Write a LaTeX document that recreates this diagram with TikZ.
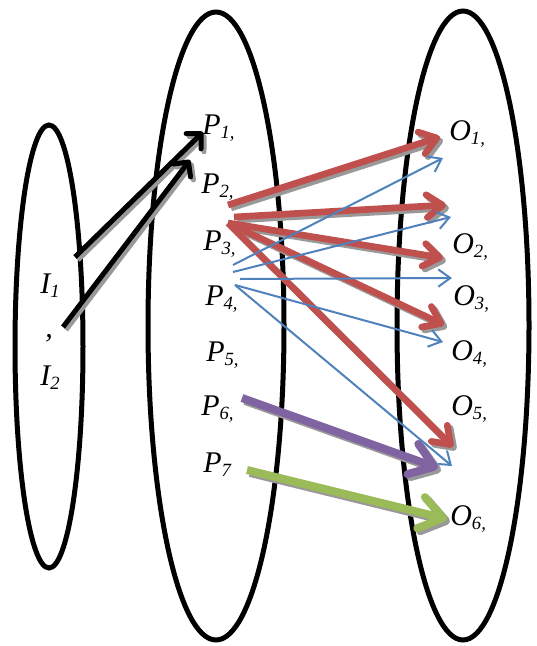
\documentclass[tikz,border=0pt]{standalone}
\usepackage{fontspec}
\setmainfont{Liberation Serif}
\usepackage{tikz}
\usetikzlibrary{arrows.meta}
\definecolor{setred}{RGB}{192,80,77}
\definecolor{setblue}{RGB}{79,129,189}
\definecolor{setpurple}{RGB}{128,100,162}
\definecolor{setgreen}{RGB}{155,187,89}
\tikzset{
  setline/.style={draw=black, line width=3.75pt},
  lbl/.style={anchor=base west, inner sep=0pt,
    font=\fontsize{22.5}{22.5}\selectfont\itshape},
  shadowline/.style={draw=black!40,
    transform canvas={shift={(2.2pt,-2.2pt)}}},
  blackarr/.style={draw=black, line width=3.75pt,
    -{Straight Barb[length=8pt,width=16pt,round]}},
  redarr/.style={draw=setred, line width=5pt,
    -{Straight Barb[length=12pt,width=17pt,round]}},
  bluearr/.style={draw=setblue, line width=1.5pt,
    -{Straight Barb[length=9pt,width=13pt]}},
  purplearr/.style={draw=setpurple, line width=6pt,
    -{Straight Barb[length=17pt,width=24pt,round]}},
  greenarr/.style={draw=setgreen, line width=6pt,
    -{Straight Barb[length=17pt,width=24pt,round]}},
}
\newcommand{\lsub}[2]{#1\raisebox{-3.6pt}{\fontsize{14}{14}\selectfont #2}}
% arrow with a grey drop shadow
\newcommand{\sarrow}[3]{%
  \draw[#1, shadowline] (#2) -- (#3);
  \draw[#1] (#2) -- (#3);}

\begin{document}
\begin{tikzpicture}[x=0.75pt, y=-0.75pt]
  \useasboundingbox (0,0) rectangle (536,646);

  % the three sets
  \draw[setline] (49,346.5) ellipse [x radius=34, y radius=221.5];
  \draw[setline] (216,326) ellipse [x radius=68, y radius=314];
  \draw[setline] (463,325.5) ellipse [x radius=66, y radius=314.5];

  % inputs
  \node[lbl] (I1) at (40,293) {\lsub{I}{1}};
  \node[lbl] (Icomma) at (45,337) {,};
  \node[lbl] (I2) at (40,385) {\lsub{I}{2}};

  % processes
  \node[lbl] (P1) at (202,134) {\lsub{P}{1,}};
  \node[lbl] (P2) at (201,193) {\lsub{P}{2,}};
  \node[lbl] (P3) at (203,250) {\lsub{P}{3,}};
  \node[lbl] (P4) at (205,305) {\lsub{P}{4,}};
  \node[lbl] (P5) at (206,361) {\lsub{P}{5,}};
  \node[lbl] (P6) at (201,415) {\lsub{P}{6,}};
  \node[lbl] (P7) at (203,472) {\lsub{P}{7}};

  % outputs
  \node[lbl] (O1) at (449,140) {\lsub{O}{1,}};
  \node[lbl] (O2) at (452,253) {\lsub{O}{2,}};
  \node[lbl] (O3) at (453,305) {\lsub{O}{3,}};
  \node[lbl] (O4) at (451,360) {\lsub{O}{4,}};
  \node[lbl] (O5) at (451,415) {\lsub{O}{5,}};
  \node[lbl] (O6) at (450,525) {\lsub{O}{6,}};

  % arrow ends
  \coordinate (i1s) at (75,257);
  \coordinate (i2s) at (63,327);
  \coordinate (p1a) at (203,132);
  \coordinate (p1b) at (190,160);
  \coordinate (p2s) at (228,205);
  \coordinate (p3a) at (234,217);
  \coordinate (p3s) at (228,223);
  \coordinate (p4a) at (233,265);
  \coordinate (p4b) at (233,272);
  \coordinate (p4c) at (240,279);
  \coordinate (p4s) at (235,285);
  \coordinate (p6s) at (242,398);
  \coordinate (p7s) at (247,470);
  \coordinate (o1r) at (440,137);
  \coordinate (o1b) at (443,158);
  \coordinate (o2r) at (446,205);
  \coordinate (o2b) at (451,217);
  \coordinate (o3r) at (443,258);
  \coordinate (o3b) at (452,278);
  \coordinate (o4r) at (444,325);
  \coordinate (o4b) at (443,342);
  \coordinate (o5r) at (453,447);
  \coordinate (o5b) at (452,466);
  \coordinate (o5p) at (438,468);
  \coordinate (o6g) at (447,519);

  % inputs to P1
  \sarrow{blackarr}{i1s}{p1a}
  \sarrow{blackarr}{i2s}{p1b}

  % red
  \sarrow{redarr}{p2s}{o1r}
  \sarrow{redarr}{p3a}{o2r}
  \sarrow{redarr}{p3s}{o3r}
  \sarrow{redarr}{p3s}{o4r}
  \sarrow{redarr}{p3s}{o5r}

  % blue
  \draw[bluearr] (p4a) -- (o1b);
  \draw[bluearr] (p4b) -- (o2b);
  \draw[bluearr] (p4c) -- (o3b);
  \draw[bluearr] (p4s) -- (o4b);
  \draw[bluearr] (p4s) -- (o5b);

  \sarrow{purplearr}{p6s}{o5p}
  \sarrow{greenarr}{p7s}{o6g}
\end{tikzpicture}
\end{document}
